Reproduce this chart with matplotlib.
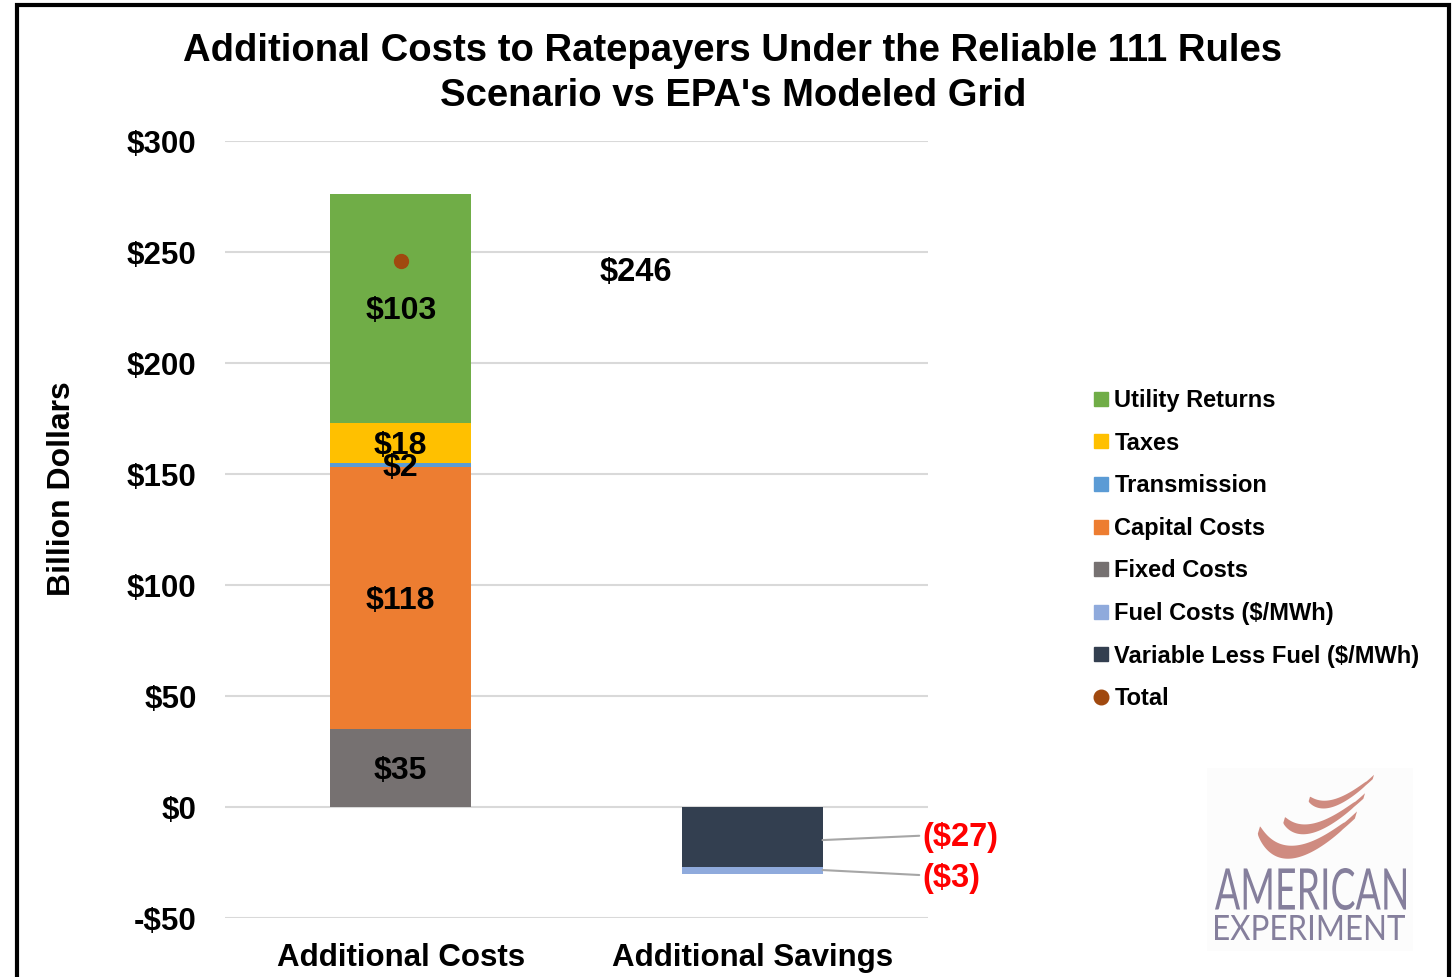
import matplotlib
matplotlib.use("Agg")
import matplotlib.pyplot as plt
from matplotlib.lines import Line2D
from matplotlib.patches import Rectangle, PathPatch, Polygon
from matplotlib.textpath import TextPath
from matplotlib.font_manager import FontProperties
from matplotlib.transforms import Affine2D
import numpy as np

# Dados do gráfico (bilhões de dólares)
categorias = ["Additional Costs", "Additional Savings"]
fixed_costs = [35, 0]
capital_costs = [118, 0]
transmission = [2, 0]
taxes = [18, 0]
utility_returns = [103, 0]
variable_less_fuel = [0, -27]
fuel_costs = [0, -3]
total = [246]

y_ticks = [-50, 0, 50, 100, 150, 200, 250, 300]

# Séries na ordem de empilhamento (de baixo para cima)
series = [
    ("Fixed Costs", fixed_costs, "#767171"),
    ("Capital Costs", capital_costs, "#ED7D31"),
    ("Transmission", transmission, "#5B9BD5"),
    ("Taxes", taxes, "#FFC000"),
    ("Utility Returns", utility_returns, "#70AD47"),
    ("Variable Less Fuel ($/MWh)", variable_less_fuel, "#333F50"),
    ("Fuel Costs ($/MWh)", fuel_costs, "#8FAADC"),
]
legend_order = ["Utility Returns", "Taxes", "Transmission", "Capital Costs",
                "Fixed Costs", "Fuel Costs ($/MWh)", "Variable Less Fuel ($/MWh)"]

plt.rcParams["font.family"] = ["Liberation Sans", "DejaVu Sans"]
plt.rcParams["font.weight"] = "bold"

W, H = 1455, 977
fig = plt.figure(figsize=(W / 100, H / 100), dpi=100)

def px_box(x0, y0, x1, y1):
    # caixa em pixels (origem no topo) -> coordenadas da figura
    return [x0 / W, 1 - y1 / H, (x1 - x0) / W, (y1 - y0) / H]

ax = fig.add_axes(px_box(225, 141, 928, 918))
x = np.arange(len(categorias))
largura = 0.4

pos_base = np.zeros(len(categorias))
neg_base = np.zeros(len(categorias))
cores = {}
for nome, vals, cor in series:
    vals = np.array(vals, dtype=float)
    base = np.where(vals >= 0, pos_base, neg_base)
    ax.bar(x, vals, largura, bottom=base, color=cor, zorder=2)
    cores[nome] = cor
    for i, v in enumerate(vals):
        if v > 0:
            ax.text(x[i], base[i] + v / 2 - 1.3, f"${v:.0f}", ha="center",
                    va="center", fontsize=23, fontweight="bold", zorder=3)
    pos_base += np.where(vals > 0, vals, 0)
    neg_base += np.where(vals < 0, vals, 0)

# Rótulos vermelhos das economias com linhas de chamada
ax.annotate(f"(${-variable_less_fuel[1]})", xy=(x[1] + largura / 2, -14.9),
            xytext=(1.483, -13.6), ha="left", va="center", color="#FF0000",
            fontsize=23.5, fontweight="bold", annotation_clip=False,
            arrowprops=dict(arrowstyle="-", color="#A6A6A6", lw=1.5,
                            shrinkA=0, shrinkB=0,
                            relpos=(0, 0.55)))
ax.annotate(f"(${-fuel_costs[1]})", xy=(x[1] + largura / 2, -28.4),
            xytext=(1.483, -32.1), ha="left", va="center", color="#FF0000",
            fontsize=23.5, fontweight="bold", annotation_clip=False,
            arrowprops=dict(arrowstyle="-", color="#A6A6A6", lw=1.5,
                            shrinkA=0, shrinkB=0,
                            relpos=(0, 0.6)))

# Ponto do total
ax.plot([x[0]], total, "o", color="#A0490F", markersize=10, zorder=4)
ax.text(0.67, total[0] - 5.2, f"${total[0]}", ha="center", va="center",
        fontsize=23.5, fontweight="bold")

ax.set_xlim(-0.5, 1.5)
ax.set_ylim(-50, 300)
ax.set_yticks(y_ticks)
ax.set_yticklabels([f"${v}" if v >= 0 else f"-${-v}" for v in y_ticks])
ax.set_xticks(x)
ax.set_xticklabels(categorias)
ax.tick_params(axis="y", length=0, pad=20.5, labelsize=22.5)
ax.tick_params(axis="x", length=0, pad=18, labelsize=22.5)
for lab in ax.get_xticklabels() + ax.get_yticklabels():
    lab.set_fontweight("bold")
ax.grid(axis="y", color="#D9D9D9", lw=1.5, zorder=0)
for s in ax.spines.values():
    s.set_visible(False)
ax.set_ylabel("Billion Dollars", fontsize=23, fontweight="bold")
ax.yaxis.set_label_coords(-0.211, 0.553)

# Título
fig.text(733 / W, 1 - 51 / H,
         "Additional Costs to Ratepayers Under the Reliable 111 Rules",
         ha="center", va="center", fontsize=27.5, fontweight="bold")
fig.text(733 / W, 1 - 96 / H, "Scenario vs EPA's Modeled Grid",
         ha="center", va="center", fontsize=27.5, fontweight="bold")

# Legenda
handles = [Line2D([], [], ls="none", marker="s", markersize=10,
                  color=cores[n]) for n in legend_order]
handles.append(Line2D([], [], ls="none", marker="o", markersize=10.5,
                      color="#A0490F"))
fig.legend(handles, legend_order + ["Total"], loc="upper left",
           bbox_to_anchor=(1092 / W, 1 - 389 / H), frameon=False,
           handlelength=0.8, handletextpad=0.15,
           labelspacing=0.83, borderpad=0, borderaxespad=0,
           prop=dict(weight="bold", size=17))

# Logo (decorativo)
lg = fig.add_axes(px_box(1207, 768, 1413, 951))
lg.set_xlim(0, 206)
lg.set_ylim(0, 183)
lg.axis("off")
lg.add_patch(Rectangle((0, 0), 206, 183, color="#FCFCFC", zorder=0))

def texto_caixa(texto, x0, x1, y0, y1, cor):
    fp = FontProperties(family="Lato", weight="normal")
    tp = TextPath((0, 0), texto, prop=fp, size=10)
    bb = tp.get_extents()
    t = (Affine2D().translate(-bb.x0, -bb.y0)
         .scale((x1 - x0) / bb.width, (y1 - y0) / bb.height)
         .translate(x0, y0))
    lg.add_patch(PathPatch(t.transform_path(tp), color=cor, lw=0))

texto_caixa("AMERICAN", 8, 199, 41, 83, "#857F9C")
texto_caixa("EXPERIMENT", 8, 198, 11, 36, "#857F9C")

# Faixas da bandeira (curvas de Bézier quadráticas)
s = np.linspace(0, 1, 80)
faixas = [((53, 121), (80, 70), (150, 136), 13),
          ((78, 131), (102, 104), (158, 155), 10),
          ((103, 152), (124, 134), (167, 174), 8)]
for p0, p1, p2, esp in faixas:
    p0, p1, p2 = map(np.array, (p0, p1, p2))
    c = ((1 - s) ** 2)[:, None] * p0 + (2 * (1 - s) * s)[:, None] * p1 + (s ** 2)[:, None] * p2
    e = esp * (0.55 + 0.45 * np.sin(np.pi * np.clip(s * 1.1, 0, 1)) ** 0.5)
    sup = np.column_stack([c[:, 0], c[:, 1] + e / 2])
    inf = np.column_stack([c[:, 0] - e * 0.3, c[:, 1] - e / 2])
    lg.add_patch(Polygon(np.vstack([sup, inf[::-1]]), closed=True,
                         color="#CF8B80", lw=0))

# Moldura preta
fig.patches.append(Rectangle((17 / W, -0.05), (1449 - 17) / W, 1.05 - 5 / H,
                             transform=fig.transFigure, fill=False,
                             ec="black", lw=3, zorder=10))

fig.savefig("out.png", dpi=100)
